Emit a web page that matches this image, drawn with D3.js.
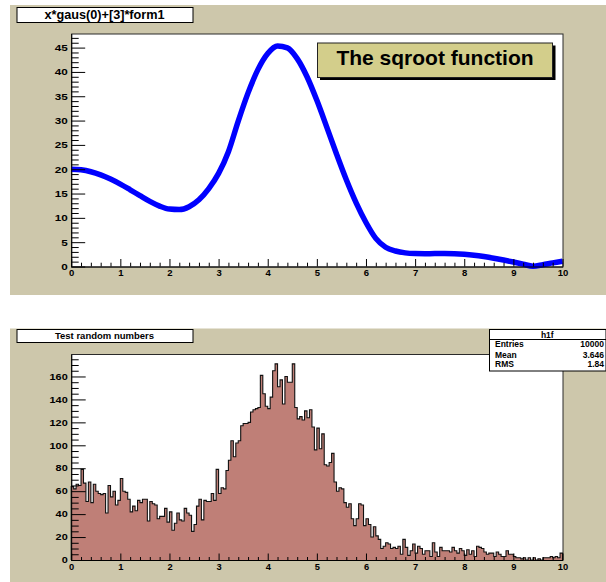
<!DOCTYPE html>
<html>
<head>
<meta charset="utf-8">
<script src="https://cdn.jsdelivr.net/npm/d3@7"></script>
<style>
  body { margin: 0; background: #ffffff; }
  svg { display: block; font-family: "Liberation Sans", Arial, Helvetica, sans-serif; font-weight: bold; }
</style>
</head>
<body>
<svg id="canvas" width="606" height="582"></svg>
<script>
// ---- data ----
// sqroot function sampled along x
const sqrootX = [0,0.2,0.4,0.6,0.8,1,1.2,1.4,1.6,1.8,2,2.2,2.4,2.6,2.8,3,3.2,3.4,3.6,3.8,4,4.2,4.4,4.6,4.8,5,
                 5.2,5.4,5.6,5.8,6,6.2,6.4,6.6,6.8,7,7.2,7.4,7.6,7.8,8,8.2,8.4,8.6,8.8,9,9.2,9.4,9.6,9.8,10];
const sqrootY = [20.0,19.87,19.48,18.84,17.98,16.94,15.77,14.56,13.39,12.42,11.80,11.70,12.30,13.72,16.02,19.14,
                 23.60,29.90,35.69,40.47,43.78,45.32,44.94,42.74,39.01,34.16,28.71,23.13,17.82,13.08,9.05,5.78,
                 3.96,3.19,2.80,2.66,2.63,2.66,2.66,2.62,2.50,2.31,2.04,1.71,1.33,0.92,0.48,0.05,0.36,0.75,1.09];

// h1f: 200 bins between 0 and 10
const histLow = 0, histHigh = 10;
const histCounts = [
  64,62,66,65,79,67,51,68,50,66,
  60,58,57,58,41,65,55,60,48,52,
  71,60,59,53,42,47,43,52,50,53,
  53,34,51,49,48,36,38,38,45,33,
  42,26,32,41,35,34,45,41,39,25,
  31,47,53,35,52,51,51,58,52,79,
  58,63,62,78,87,104,90,102,104,117,
  119,119,120,129,131,132,133,161,145,134,
  132,142,165,171,151,157,136,160,155,155,
  171,133,123,125,122,130,124,131,116,96,
  115,97,110,83,82,85,93,68,60,63,
  62,50,46,49,36,30,36,49,48,30,
  36,31,20,29,21,18,10,12,15,14,
  10,11,10,12,5,18,11,4,8,14,
  6,12,10,5,8,8,3,15,7,3,
  11,8,8,8,7,11,8,6,10,8,
  4,9,5,8,3,12,11,10,7,5,
  6,6,3,7,5,3,3,8,5,5,
  3,2,2,1,2,0,2,0,2,0,
  1,0,2,2,2,3,2,3,2,6
];

// axis ticks
const xMajor = [0,1,2,3,4,5,6,7,8,9,10];
const xMinor = d3.range(0, 50).map(i => i / 5).filter(v => v % 1 !== 0);
const fYMajor = [0,5,10,15,20,25,30,35,40,45];
const fYMinor = [1,2,3,4,6,7,8,9,11,12,13,14,16,17,18,19,21,22,23,24,26,27,28,29,31,32,33,34,36,37,38,39,41,42,43,44,46,47];
const hYMajor = [0,20,40,60,80,100,120,140,160];
const hYMinor = [5,10,15,25,30,35,45,50,55,65,70,75,85,90,95,105,110,115,125,130,135,145,150,155,165,170,175];

// texts
const funcTitle = "x*gaus(0)+[3]*form1";
const funcLabel = "The sqroot function";
const histTitle = "Test random numbers";
const statsName = "h1f";
const statsKeys = ["Entries", "Mean", "RMS"];
const statsVals = ["10000", "3.646", "1.84"];

// ---- style ----
const PAD = "#cdc7ab";
const LABEL_FILL = "#d3ce8b";
const HIST_FILL = "#bf7f77";
const LINE_BLUE = "#0000ff";

const svg = d3.select("#canvas");

// pads
svg.append("rect").attr("x", 10).attr("y", 5).attr("width", 596).attr("height", 290).attr("fill", PAD);
svg.append("rect").attr("x", 10).attr("y", 328.5).attr("width", 596).attr("height", 254).attr("fill", PAD);

function drawFrame(x, y) {
  const [x0, x1] = x.range();
  const [y0, y1] = y.range();
  svg.append("rect")
    .attr("x", x0 + 0.5).attr("y", y1 + 0.5)
    .attr("width", x1 - x0).attr("height", y0 - y1)
    .attr("fill", "#ffffff").attr("stroke", "#2a2a2a").attr("stroke-width", 1);
}

function drawAxes(x, y, o) {
  const y0 = y.range()[0];
  const x0 = x.range()[0];
  const g = svg.append("g");

  // x axis (ticks point into the frame)
  const xm = g.append("g").attr("transform", `translate(0,${y0})`)
    .call(d3.axisBottom(x).tickValues(xMinor).tickSize(-o.xMinorLen).tickSizeOuter(0).tickFormat(""));
  xm.select(".domain").remove();
  const xa = g.append("g").attr("transform", `translate(0,${y0})`)
    .call(d3.axisBottom(x).tickValues(xMajor).tickSize(-o.xMajorLen).tickSizeOuter(0).tickPadding(o.xPad)
      .tickFormat(d3.format("d")));
  xa.selectAll("text").attr("font-size", o.xFont).attr("font-family", null).attr("font-weight", "bold").attr("fill", "#000");

  // y axis
  const ym = g.append("g").attr("transform", `translate(${x0},0)`)
    .call(d3.axisLeft(y).tickValues(o.yMinor).tickSize(-o.yMinorLen).tickSizeOuter(0).tickFormat(""));
  ym.select(".domain").remove();
  const ya = g.append("g").attr("transform", `translate(${x0},0)`)
    .call(d3.axisLeft(y).tickValues(o.yMajor).tickSize(-o.yMajorLen).tickSizeOuter(0).tickFormat(d3.format("d")));
  ya.selectAll("text")
    .attr("font-size", o.yFont).attr("font-weight", "bold").attr("fill", "#000")
    .attr("x", -o.yPad / o.yStretch)
    .attr("transform", `scale(${o.yStretch},1)`);
  g.selectAll("g").attr("font-family", null);
}

function titleBox(x, y, w, h, text, size, baseline) {
  svg.append("rect").attr("x", x + 0.5).attr("y", y + 0.5).attr("width", w).attr("height", h)
    .attr("fill", "#ffffff").attr("stroke", "#000").attr("stroke-width", 1);
  svg.append("text").attr("x", x + w / 2).attr("y", baseline)
    .attr("text-anchor", "middle").attr("font-size", size).attr("fill", "#000").text(text);
}

// ===== upper pad: function =====
const fx = d3.scaleLinear().domain([0, 10]).range([71.2, 562.5]);
const fy = d3.scaleLinear().domain([0, 47.9]).range([266.5, 33.5]);

drawFrame(fx, fy);

const fnLine = d3.line()
  .x((d, i) => fx(sqrootX[i]))
  .y(d => fy(d))
  .curve(d3.curveMonotoneX);

svg.append("path")
  .datum(sqrootY)
  .attr("d", fnLine)
  .attr("fill", "none")
  .attr("stroke", LINE_BLUE)
  .attr("stroke-width", 5.5)
  .attr("stroke-linejoin", "round");

drawAxes(fx, fy, {
  xMajorLen: 7.5, xMinorLen: 3.8, xPad: 2.6, xFont: 9.5,
  yMajor: fYMajor, yMinor: fYMinor, yMajorLen: 14, yMinorLen: 7.5, yPad: 3.5, yFont: 9, yStretch: 1.3
});

titleBox(16.5, 7, 176, 15, funcTitle, 12.7, 18.6);

// function label with shadow
svg.append("rect").attr("x", 320).attr("y", 45.5).attr("width", 235.5).attr("height", 34.5).attr("fill", "#000");
svg.append("rect").attr("x", 317.5).attr("y", 43).attr("width", 235).attr("height", 34.5)
  .attr("fill", LABEL_FILL).attr("stroke", "#222").attr("stroke-width", 1);
svg.append("text").attr("x", 435).attr("y", 65).attr("text-anchor", "middle")
  .attr("font-size", 21).attr("fill", "#000").text(funcLabel);

// ===== lower pad: histogram =====
const hx = d3.scaleLinear().domain([histLow, histHigh]).range([71.2, 562.5]);
const hy = d3.scaleLinear().domain([0, 179.6]).range([560, 354]);

drawFrame(hx, hy);

const binW = (histHigh - histLow) / histCounts.length;
const steps = [{ x: histLow, v: 0 }]
  .concat(histCounts.map((v, i) => ({ x: histLow + i * binW, v })))
  .concat([{ x: histHigh, v: histCounts[histCounts.length - 1] }, { x: histHigh, v: 0 }]);

svg.append("path")
  .datum(steps)
  .attr("d", d3.area().x(d => hx(d.x)).y0(hy(0)).y1(d => hy(d.v)).curve(d3.curveStepAfter))
  .attr("fill", HIST_FILL);

svg.append("path")
  .datum(steps)
  .attr("d", d3.line().x(d => hx(d.x)).y(d => hy(d.v)).curve(d3.curveStepAfter))
  .attr("fill", "none")
  .attr("stroke", "#111")
  .attr("stroke-width", 1.1);

drawAxes(hx, hy, {
  xMajorLen: 6.5, xMinorLen: 3, xPad: 3.4, xFont: 9.3,
  yMajor: hYMajor, yMinor: hYMinor, yMajorLen: 14.5, yMinorLen: 7.5, yPad: 3.5, yFont: 8.5, yStretch: 1.28
});

titleBox(16.5, 329, 176, 13, histTitle, 9.5, 339.3);

// statistics box
const sb = { x: 489, y: 329, w: 116.5, h: 41.5 };
svg.append("rect").attr("x", sb.x + 0.5).attr("y", sb.y + 0.5).attr("width", sb.w).attr("height", sb.h)
  .attr("fill", "#ffffff").attr("stroke", "#000").attr("stroke-width", 1);
svg.append("line").attr("x1", sb.x).attr("x2", sb.x + sb.w + 0.5).attr("y1", 339.5).attr("y2", 339.5)
  .attr("stroke", "#000").attr("stroke-width", 1);
svg.append("text").attr("x", sb.x + sb.w / 2).attr("y", 337.6).attr("text-anchor", "middle")
  .attr("font-size", 8.5).attr("fill", "#000").text(statsName);
const rowY = [347.4, 357.6, 367.2];
statsKeys.forEach((k, i) => {
  svg.append("text").attr("x", 495).attr("y", rowY[i]).attr("font-size", 8.5).attr("fill", "#000").text(k);
  svg.append("text").attr("x", 604).attr("y", rowY[i]).attr("text-anchor", "end")
    .attr("font-size", 8.5).attr("fill", "#000").text(statsVals[i]);
});
</script>
</body>
</html>
